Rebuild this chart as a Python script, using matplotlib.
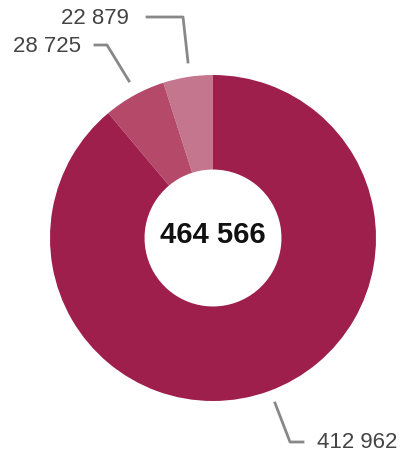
import matplotlib.pyplot as plt

# valores del grafico
etiquetas = ['22 879', '28 725', '412 962']
valores = [22879, 28725, 412962]
total_txt = '464 566'
colores = ['#c4768e', '#b4496a', '#9e1f4c']

plt.rcParams['font.family'] = ['Liberation Sans', 'DejaVu Sans']

fig = plt.figure(figsize=(4.01, 4.59), dpi=100)
ax = fig.add_axes([0, 0, 1, 1])

# centro y radio en pixeles (eje y hacia arriba)
cx, cy, r = 213, 459 - 238, 163
ax.pie(valores, colors=colores, startangle=90, counterclock=True,
       center=(cx, cy), radius=r,
       wedgeprops=dict(width=r * 0.58, linewidth=0))

ax.set_xlim(0, 401)
ax.set_ylim(0, 459)
ax.set_aspect('equal')
ax.axis('off')

ax.text(cx, cy + 3, total_txt, ha='center', va='center',
        fontsize=21, fontweight='bold', color='#111111')

# lineas guia y etiquetas
gris = '#888888'
ax.plot([188, 183, 147], [459 - 62, 459 - 17, 459 - 17], color=gris, lw=2)
ax.text(129, 459 - 18, etiquetas[0], ha='right', va='center', fontsize=16, color='#444444')

ax.plot([129, 107, 95], [459 - 81, 459 - 45, 459 - 45], color=gris, lw=2)
ax.text(81, 459 - 46, etiquetas[1], ha='right', va='center', fontsize=16, color='#444444')

ax.plot([275, 290, 303], [459 - 403, 459 - 442, 459 - 442], color=gris, lw=2)
ax.text(317, 459 - 443, etiquetas[2], ha='left', va='center', fontsize=16, color='#444444')

fig.savefig('out.png', dpi=100, facecolor='white')
